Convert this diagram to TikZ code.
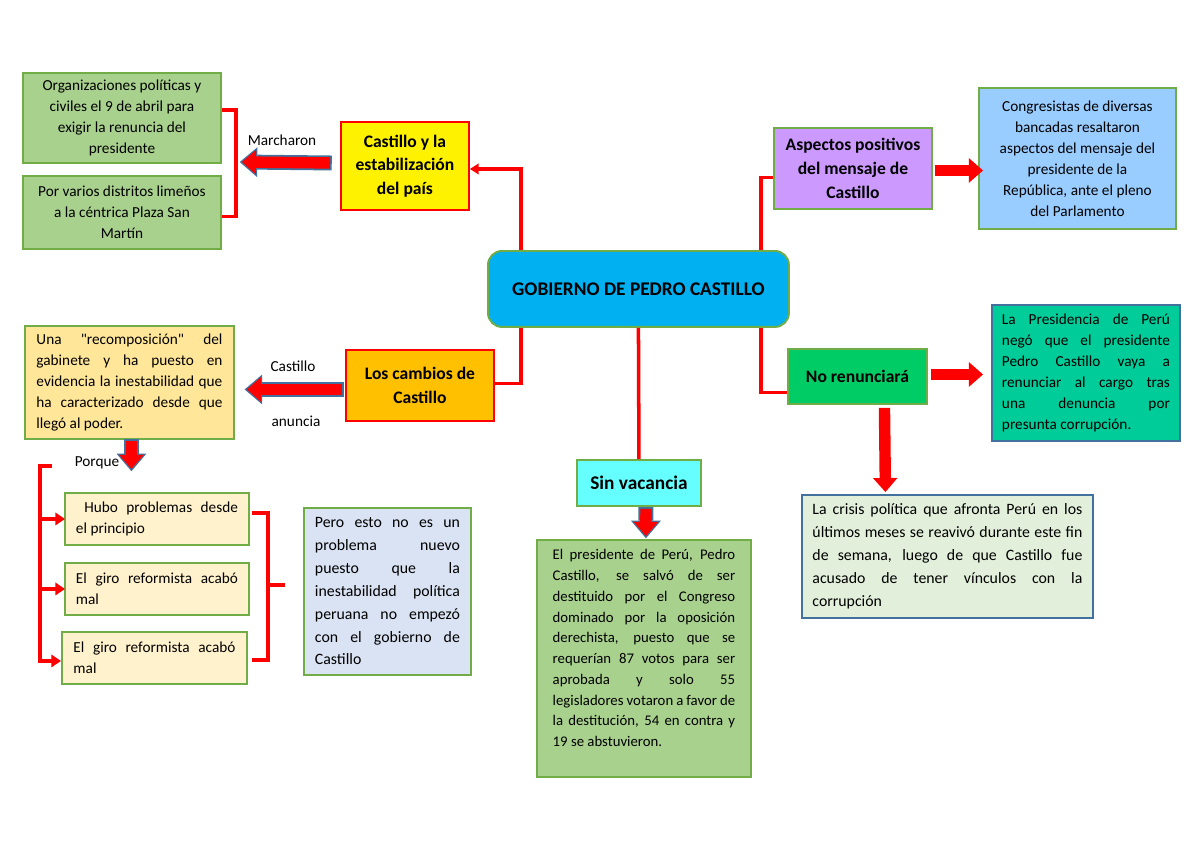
\documentclass[tikz,border=0pt]{standalone}
\usepackage{fontspec}
\setmainfont{Carlito}
\usetikzlibrary{arrows.meta,calc,positioning}

\definecolor{boxgreen}{HTML}{70AD47}
\definecolor{boxblue}{HTML}{41719C}
\definecolor{arrowblue}{HTML}{41719C}
\definecolor{maincyan}{HTML}{00B0F0}
\definecolor{leafgreen}{HTML}{A9D18E}
\definecolor{sand}{HTML}{FFE699}
\definecolor{cream}{HTML}{FFF2CC}
\definecolor{paleblue}{HTML}{DAE3F3}
\definecolor{aqua}{HTML}{66FFFF}
\definecolor{lilac}{HTML}{CC99FF}
\definecolor{sky}{HTML}{99CCFF}
\definecolor{amber}{HTML}{FFC000}
\definecolor{jade}{HTML}{00CC66}
\definecolor{teal}{HTML}{00CC99}
\definecolor{mint}{HTML}{E2EFDA}

\tikzset{
  box/.style={draw=boxgreen, line width=1.1pt, inner sep=0pt, anchor=north west,
    font=\fontsize{8.7}{12}\selectfont},
  title/.style={box, align=center, font=\bfseries\fontsize{10}{13.5}\selectfont},
  note/.style={box, align=center},
  just/.style={box, align=justify},
  tag/.style={font=\fontsize{8.7}{12}\selectfont},
  link/.style={draw=red, line width=2pt},
  tipped/.style={-{Triangle[length=5.5pt,width=7pt]}},
  fat/.style={draw=red, line width=6.5pt, -{Triangle[length=8pt,width=14pt,line width=0pt]}},
  fatblue/.style={fat, preaction={draw=arrowblue, line width=8.5pt, shorten >=-1.3pt,
    shorten <=-1pt, -{Triangle[length=10pt,width=17pt,line width=0pt]}}}
}

\begin{document}
\begin{tikzpicture}[x=0.02cm,y=-0.02cm]
  \useasboundingbox (0,0) rectangle (1200,849);

  % centre
  \node[title, fill=maincyan, rounded corners=8pt, minimum width=6.02cm, minimum height=1.52cm,
    font=\bfseries\fontsize{11}{13}\selectfont] (main) at (487,250) {GOBIERNO DE PEDRO CASTILLO};

  % marcharon
  \node[title, fill=yellow, draw=red, minimum width=2.56cm, minimum height=1.76cm] (stab) at (340,121)
    {Castillo y la\\estabilización\\del país};
  \node[note, fill=leafgreen, minimum width=3.96cm, minimum height=1.8cm] (org) at (22,72)
    {Organizaciones políticas y\\civiles el 9 de abril para\\exigir la renuncia del\\presidente};
  \node[note, fill=leafgreen, minimum width=3.96cm, minimum height=1.46cm] (dist) at (22,175)
    {Por varios distritos limeños\\a la céntrica Plaza San\\Martín};
  \node[tag] (march) at (282,140) {Marcharon};
  \coordinate (brA) at (236,162);
  \draw[link, -{Triangle[length=5pt,width=6pt]}] ($(main.north west)+(34,0)$) |- ($(stab.east)+(0,3)$);
  \draw[link] ($(org.east)+(0,-8)$) -| (brA) |- ($(dist.east)+(0,4)$);
  \draw[fatblue] ($(stab.west)+(-10,-3)$) -- ($(brA)+(6,0)$);

  % aspectos positivos
  \node[title, fill=lilac, minimum width=3.16cm, minimum height=1.62cm] (purple) at (773,127)
    {Aspectos positivos\\del mensaje de\\Castillo};
  \node[note, fill=sky, minimum width=3.94cm, minimum height=2.82cm] (sky) at (978,87)
    {Congresistas de diversas\\bancadas resaltaron\\aspectos del mensaje del\\presidente de la\\República, ante el pleno\\del Parlamento};
  \draw[link] ($(main.north east)+(-29,0)$) |- ($(purple.west)+(0,9)$);
  \draw[fat] ($(purple.east)+(2,2)$) -- ($(purple.east -| sky.west)+(5,2)$);

  % cambios
  \node[title, fill=amber, draw=red, minimum width=2.96cm, minimum height=1.42cm] (cambios) at (345,349)
    {Los cambios de\\Castillo};
  \node[just, fill=sand, text width=3.72cm, minimum width=4.18cm, minimum height=2.26cm] (recomp) at (24,325)
    {Una \textquotedbl recomposición\textquotedbl{} del\linebreak gabinete y ha puesto en\linebreak evidencia la inestabilidad que\linebreak ha caracterizado desde que\linebreak llegó al poder.};
  \node[tag] (anunA) at (293,366) {Castillo};
  \node[tag] (anunB) at (296,421) {anuncia};
  \draw[link] ($(main.south west)+(34,0)$) |- ($(cambios.east)+(0,-2)$);
  \draw[fatblue] ($(cambios.west)+(-3,4)$) -- ($(recomp.east |- cambios.west)+(12,4)$);

  % porque
  \node[tag] (porque) at (97,463) {Porque};
  \draw[fatblue] ($(recomp.south)+(2,1)$) -- ++(0,28);
  \node[just, fill=cream, text width=3.24cm, minimum width=3.68cm, minimum height=1.04cm] (hubo) at (64,492)
    {\ Hubo problemas desde\linebreak el principio};
  \node[just, fill=cream, text width=3.24cm, minimum width=3.68cm, minimum height=1.04cm] (giroA) at (64,562)
    {El giro reformista acabó\linebreak mal};
  \node[just, fill=cream, text width=3.24cm, minimum width=3.7cm, minimum height=1.04cm] (giroB) at (61,631)
    {El giro reformista acabó\linebreak mal};
  \coordinate (brB) at (40,466);
  \draw[link, tipped] ($(brB)+(12,0)$) -- (brB) |- ($(giroB.west)+(0,3)$);
  \draw[link, tipped] (brB |- hubo.west) -- ($(hubo.west)+(1,0)$);
  \draw[link, tipped] (brB |- giroA.west) -- ($(giroA.west)+(1,0)$);
  \coordinate (brC) at (268,585);
  \draw[link] ($(hubo.east)+(2,-6)$) -| (brC) |- ($(giroB.east)+(4,2)$);
  \draw[link] (brC) -- ++(17,0);
  \node[just, fill=paleblue, text width=2.9cm, minimum width=3.34cm, minimum height=3.34cm,
    font=\fontsize{9}{13}\selectfont] (pero) at (303,507)
    {Pero esto no es un\linebreak problema nuevo\linebreak puesto que la\linebreak inestabilidad política\linebreak peruana no empezó\linebreak con el gobierno de\linebreak Castillo};

  % sin vacancia
  \node[title, fill=aqua, minimum width=2.48cm, minimum height=0.92cm,
    font=\bfseries\fontsize{11}{13}\selectfont] (sinvac) at (576,459) {Sin vacancia};
  \node[just, fill=leafgreen, text width=3.65cm, minimum width=4.28cm, minimum height=4.74cm,
    font=\fontsize{8.4}{11.8}\selectfont] (destit) at (536,539)
    {El presidente de Perú, Pedro\linebreak Castillo, se salvó de ser\linebreak destituido por el Congreso\linebreak dominado por la oposición\linebreak derechista, puesto que se\linebreak requerían 87 votos para ser\linebreak aprobada y solo 55\linebreak legisladores votaron a favor de\linebreak la destitución, 54 en contra y\linebreak 19 se abstuvieron.\par\mbox{}};
  \draw[link] (main.south) -- (sinvac.north);
  \draw[fatblue] ($(sinvac.south)+(7,2)$) -- ($(destit.north)+(2,-3)$);

  % no renunciara
  \node[title, fill=jade, minimum width=2.78cm, minimum height=1.1cm] (noren) at (787,348) {No renunciará};
  \node[just, fill=teal, draw=boxblue, text width=3.36cm, minimum width=3.76cm, minimum height=2.72cm] (tealbox) at (991,304)
    {La Presidencia de Perú\linebreak negó que el presidente\linebreak Pedro Castillo vaya a\linebreak renunciar al cargo tras\linebreak una denuncia por\linebreak presunta corrupción.};
  \node[just, fill=mint, draw=boxblue, text width=5.4cm, minimum width=5.82cm, minimum height=2.46cm,
    font=\fontsize{9}{13}\selectfont] (crisis) at (801,494)
    {La crisis política que afronta Perú en los\linebreak últimos meses se reavivó durante este fin\linebreak de semana, luego de que Castillo fue\linebreak acusado de tener vínculos con la\linebreak corrupción};
  \draw[link] ($(main.south east)+(-29,0)$) |- ($(noren.west)+(0,16)$);
  \draw[fat] ($(noren.east)+(3,-2)$) -- ($(noren.east -| tealbox.west)+(-8,-2)$);
  \draw[fat] ($(noren.south)+(27,3)$) -- ($(crisis.north)+(-62,-2)$);
\end{tikzpicture}
\end{document}
